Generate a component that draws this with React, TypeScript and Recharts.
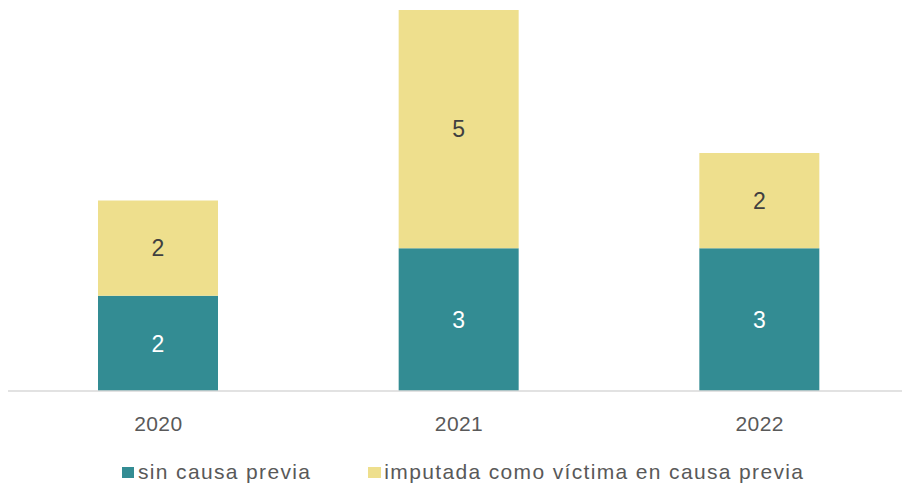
import React from "react";
import { BarChart, Bar, XAxis, YAxis, LabelList, Legend } from "recharts";

const years = ["2020", "2021", "2022"];
const sinCausaPrevia = [2, 3, 3];
const imputadaVictima = [2, 5, 2];
const seriesNames = ["sin causa previa", "imputada como víctima en causa previa"];

const data = years.map((y, i) => ({
  year: y,
  sin: sinCausaPrevia[i],
  imp: imputadaVictima[i],
}));

const TEAL = "#338C93";
const YELLOW = "#EEDF8D";
const FONT = "'Liberation Sans', Arial, sans-serif";

const LegendContent = () => (
  <div
    style={{
      display: "flex",
      alignItems: "center",
      height: 24,
      paddingLeft: 122,
      fontFamily: FONT,
      fontSize: 21,
      letterSpacing: 1.35,
      color: "#595959",
      lineHeight: "24px",
      whiteSpace: "nowrap",
    }}
  >
    <span style={{ display: "inline-block", width: 12, height: 11, background: TEAL, marginRight: 4 }} />
    <span>{seriesNames[0]}</span>
    <span style={{ display: "inline-block", width: 13, height: 11, background: YELLOW, marginLeft: 57, marginRight: 3 }} />
    <span>{seriesNames[1]}</span>
  </div>
);

export default function App() {
  return (
    <div style={{ position: "absolute", left: 0, top: 0, width: 902, height: 484, overflow: "hidden", background: "#fff" }}>
      <BarChart width={910} height={484} data={data} margin={{ top: 10, right: 0, left: 8, bottom: 29 }} barCategoryGap={0}>
        <XAxis
          dataKey="year"
          axisLine={{ stroke: "#D9D9D9", strokeWidth: 1.5 }}
          tickLine={false}
          tickMargin={19}
          height={40}
          tick={{ fill: "#595959", fontSize: 21, fontFamily: FONT, letterSpacing: 0.4 }}
        />
        <YAxis hide domain={[0, 8]} />
        <Legend
          verticalAlign="bottom"
          content={<LegendContent />}
          wrapperStyle={{ top: 460, bottom: "auto", left: 0, width: 902, height: 24 }}
        />
        <Bar dataKey="sin" stackId="a" fill={TEAL} barSize={120} isAnimationActive={false}>
          <LabelList dataKey="sin" position="center" fill="#FFFFFF" fontSize={23} fontFamily={FONT} />
        </Bar>
        <Bar dataKey="imp" stackId="a" fill={YELLOW} barSize={120} isAnimationActive={false}>
          <LabelList dataKey="imp" position="center" fill="#404040" fontSize={23} fontFamily={FONT} />
        </Bar>
      </BarChart>
    </div>
  );
}
